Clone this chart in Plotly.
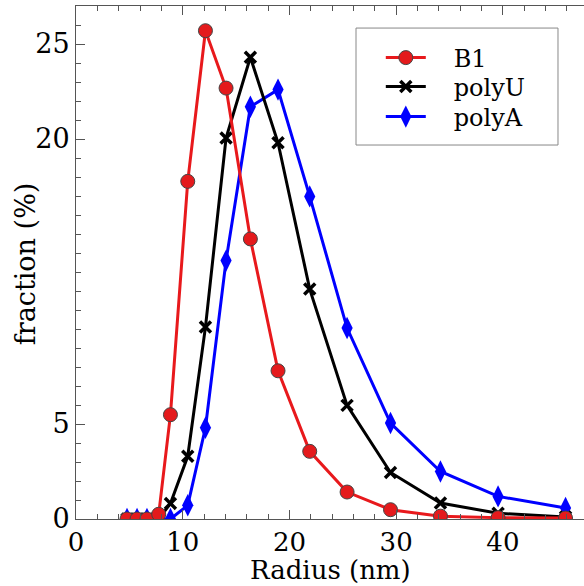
import plotly.graph_objects as go

radius = [4.78, 5.72, 6.65, 7.75, 8.85, 10.47, 12.13, 14.06, 16.34, 18.93, 21.9, 25.4, 29.47, 34.15, 39.55, 45.87]
b1 = [0.0, 0.0, 0.0, 0.25, 5.49, 17.77, 25.7, 22.68, 14.74, 7.8, 3.56, 1.42, 0.49, 0.15, 0.07, 0.05]
polyU = [0.0, 0.0, 0.0, 0.0, 0.82, 3.3, 10.1, 20.05, 24.3, 19.8, 12.1, 5.98, 2.45, 0.84, 0.3, 0.1]
polyA = [0.0, 0.0, 0.0, 0.0, 0.0, 0.72, 4.8, 13.6, 21.7, 22.6, 16.98, 10.05, 5.05, 2.5, 1.19, 0.58]

y_tickvals = [0, 5, 20, 25]
x_tickvals = [0, 10, 20, 30, 40]

SERIF = "DejaVu Serif"
NB = "\u00a0\u00a0\u00a0"

fig = go.Figure()
fig.add_trace(go.Scatter(
    x=radius, y=polyA, name=NB + "polyA", mode="lines+markers", legend="legend3",
    line=dict(color="#0000ff", width=3),
    marker=dict(symbol="diamond-tall", size=16, color="#0000ff", line=dict(width=0)),
))
fig.add_trace(go.Scatter(
    x=radius, y=polyU, name=NB + "polyU", mode="lines+markers", legend="legend2",
    line=dict(color="black", width=3),
    marker=dict(symbol="x-thin", size=11, color="black", line=dict(width=3.5, color="black")),
))
fig.add_trace(go.Scatter(
    x=radius, y=b1, name=NB + "B1", mode="lines+markers", legend="legend",
    line=dict(color="#e8191c", width=3),
    marker=dict(symbol="circle", size=14, color="#e41a1c", line=dict(width=1, color="#444444")),
))

leg_common = dict(xanchor="left", yanchor="middle", borderwidth=0, bgcolor="rgba(0,0,0,0)",
                  font=dict(family=SERIF, size=24), itemwidth=40)

fig.add_shape(type="rect", xref="paper", yref="paper",
              x0=0.5512, x1=0.9488, y0=0.729, y1=0.957,
              line=dict(color="#888888", width=1), fillcolor="white", layer="below")

fig.add_annotation(text="fraction (%)", xref="paper", yref="paper", x=-0.100, y=0.497,
                   textangle=-90, showarrow=False, font=dict(family=SERIF, size=27),
                   xanchor="center", yanchor="middle")
fig.add_annotation(text="Radius (nm)", xref="paper", yref="paper", x=0.5, y=-0.1315,
                   showarrow=False, font=dict(family=SERIF, size=26),
                   xanchor="center", yanchor="bottom", borderpad=0)

fig.update_layout(
    width=584, height=586,
    margin=dict(l=76, r=0, t=6, b=67),
    plot_bgcolor="white", paper_bgcolor="white",
    font=dict(family=SERIF, size=26, color="black"),
    showlegend=True,
    legend=dict(x=0.600, y=0.8986, **leg_common),
    legend2=dict(x=0.600, y=0.8421, **leg_common),
    legend3=dict(x=0.600, y=0.7836, **leg_common),
    xaxis=dict(
        range=[0, 47.6], tickvals=x_tickvals, ticks="inside", ticklen=9, tickwidth=1,
        tickcolor="#555555", showline=True, linecolor="#555555", linewidth=1,
        mirror="allticks", showgrid=False, zeroline=False,
        minor=dict(dtick=2, tick0=0, ticks="inside", ticklen=5, tickcolor="#555555", showgrid=False),
        tickfont=dict(family=SERIF, size=26),
    ),
    yaxis=dict(
        range=[0, 27], tickvals=y_tickvals, ticks="inside", ticklen=9, tickwidth=1,
        tickcolor="#555555", showline=True, linecolor="#555555", linewidth=1,
        showgrid=False, zeroline=False,
        minor=dict(dtick=1, tick0=0, ticks="inside", ticklen=5, tickcolor="#555555", showgrid=False),
        tickfont=dict(family=SERIF, size=27),
    ),
)

fig.write_html("out.html")
